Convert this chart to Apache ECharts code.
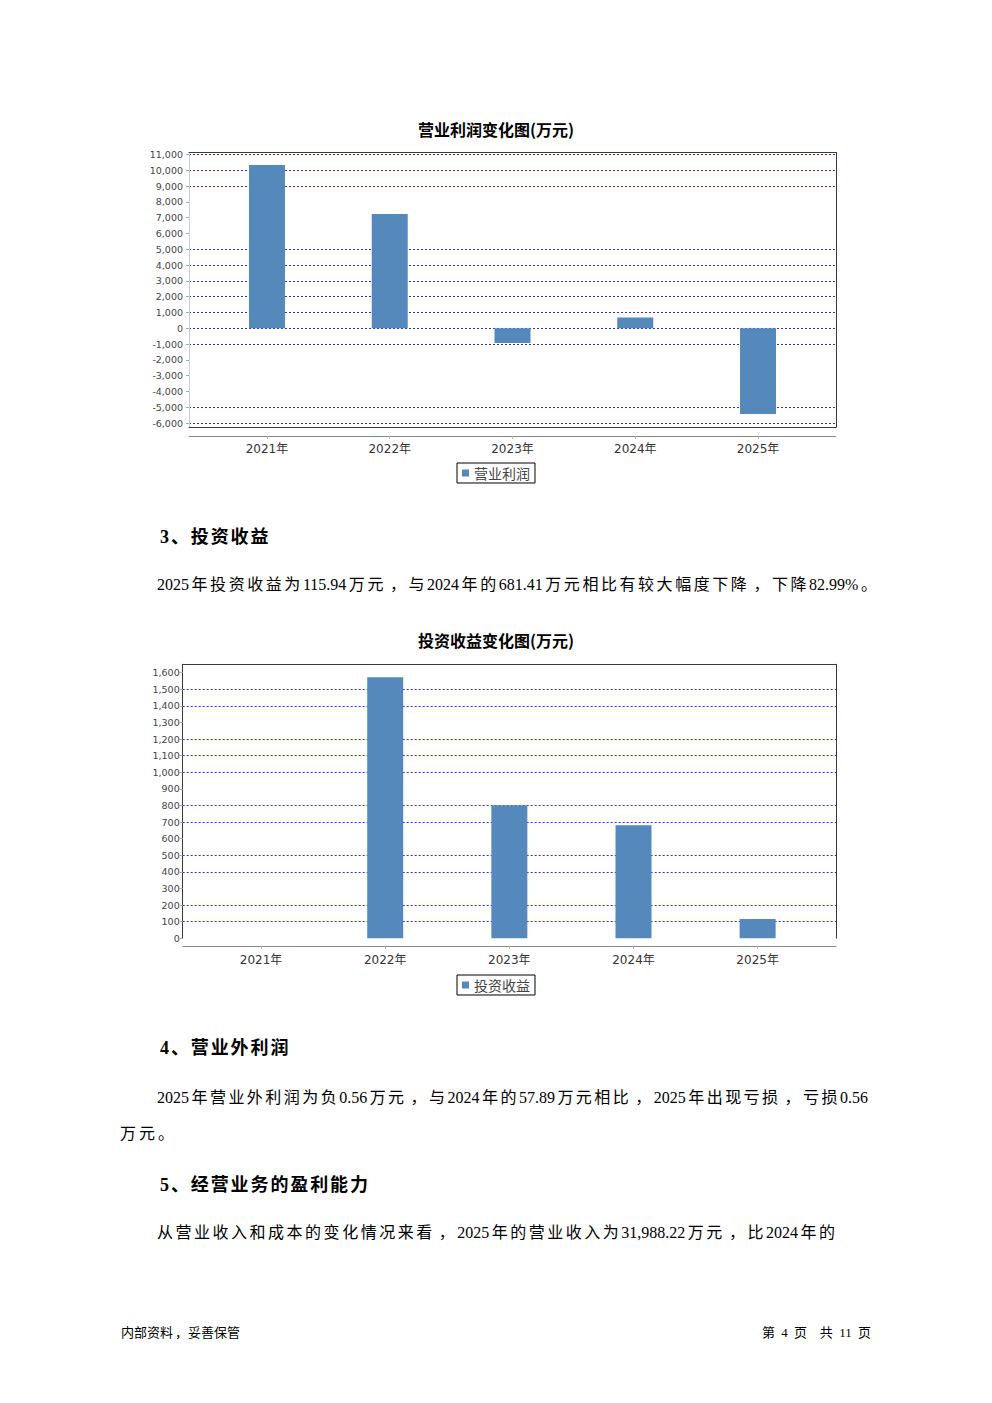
<!DOCTYPE html>
<html>
<head>
<meta charset="utf-8">
<script src="https://cdn.jsdelivr.net/npm/echarts@6/dist/echarts.min.js"></script>
<style>
  html, body { margin:0; padding:0; background:#fff; }
  #page { position:relative; width:992px; height:1403px; overflow:hidden; background:#fff; }
  #chart { position:absolute; left:0; top:0; width:992px; height:1403px; }
  .t { position:absolute; white-space:nowrap; font-family:'Liberation Serif','Noto Sans CJK SC',serif; font-size:16px; line-height:20px; color:#000; }
  .j { text-align:justify; text-align-last:justify; }
  .h { font-weight:bold; font-size:18px; line-height:22px; letter-spacing:1.9px; }
  .f { font-family:'Liberation Serif','Noto Sans CJK SC',serif; font-size:13px; line-height:16px; }
  .c { padding-left:4px; }
  .fc { padding-left:2px; }
</style>
</head>
<body>
<div id="page">
  <div id="chart"></div>
  <div class="t h" style="left:160px; top:526px;">3、投资收益</div>
  <div class="t j" style="left:157px; top:575px; width:720px;">2025年投资收益为115.94万元<span class="c">，</span>与2024年的681.41万元相比有较大幅度下降<span class="c">，</span>下降82.99%。</div>
  <div class="t h" style="left:160px; top:1037px;">4、营业外利润</div>
  <div class="t j" style="left:157px; top:1088px; width:711px;">2025年营业外利润为负0.56万元<span class="c">，</span>与2024年的57.89万元相比<span class="c">，</span>2025年出现亏损<span class="c">，</span>亏损0.56</div>
  <div class="t" style="left:120px; top:1124px; letter-spacing:3px;">万元。</div>
  <div class="t h" style="left:160px; top:1174px;">5、经营业务的盈利能力</div>
  <div class="t j" style="left:157px; top:1223px; width:678px;">从营业收入和成本的变化情况来看<span class="c">，</span>2025年的营业收入为31,988.22万元<span class="c">，</span>比2024年的</div>
  <div class="t f" style="left:121px; top:1325px;">内部资料<span class="fc">，</span>妥善保管</div>
  <div class="t f" style="right:121px; top:1325px; white-space:pre; word-spacing:3.1px;">第 4 页  共 11 页</div>
</div>
<script>
// ---------------- data ----------------
const years = ['2021年', '2022年', '2023年', '2024年', '2025年'];
const opProfitName = '营业利润';
const opProfit = [10340, 7230, -930, 680, -5430];
const opAxis = { min: -6000, max: 11000, step: 1000 };
const invIncomeName = '投资收益';
const invIncome = [0, 1573, 802, 681.41, 115.94];
const invAxis = { min: 0, max: 1600, step: 100 };
const opTitle = '营业利润变化图(万元)';
const invTitle = '投资收益变化图(万元)';

// ---------------- styles / layout ----------------
const BAR = '#5589bb';
const GRIDBLUE = '#2b2bff';
const H = 1403, W = 992;
// gridline visibility (from axis min upward), reproducing the reference rendering
const opGridShown  = [1,1,0,0,0,1,1,1,1,1,1,1,0,0,0,1,1,1];
const invGridShown = [0,1,1,0,1,1,0,1,1,0,1,1,1,0,1,1,0];

const grids = [], xAxes = [], yAxes = [], series = [], titles = [], legends = [];

function noAxisParts(o) {
  return Object.assign({
    axisTick: { show: false }, axisLabel: { show: false }, splitLine: { show: false }
  }, o);
}

function addChart(c) {
  // frame grid
  const f = grids.length;
  grids.push({ left: c.F.l, top: c.F.t, width: c.F.r - c.F.l, height: c.F.b - c.F.t, show: false });
  const line = (show, color) => ({ show: show, onZero: false, lineStyle: { color: color, width: 1 } });
  xAxes.push(noAxisParts({ gridIndex: f, type: 'value', min: 0, max: 1, position: 'top', axisLine: line(c.F.sides.top, '#3a3a3a') }));
  xAxes.push(noAxisParts({ gridIndex: f, type: 'value', min: 0, max: 1, position: 'bottom', axisLine: line(c.F.sides.bottom, '#3a3a3a') }));
  xAxes.push(noAxisParts({ gridIndex: f, type: 'value', min: 0, max: 1, position: 'bottom', offset: c.axisY - c.F.b, axisLine: line(true, '#8a8a8a') }));
  yAxes.push(noAxisParts({ gridIndex: f, type: 'value', min: 0, max: 1, position: 'left', axisLine: line(true, c.F.leftColor) }));
  yAxes.push(noAxisParts({ gridIndex: f, type: 'value', min: 0, max: 1, position: 'right', axisLine: line(true, '#3a3a3a') }));

  // gridline / y-label grid
  const g = grids.length;
  grids.push({ left: c.F.l, top: c.G.t, width: c.F.r - c.F.l, height: c.G.b - c.G.t, show: false });
  xAxes.push({ gridIndex: g, type: 'value', min: 0, max: 1, show: false });
  const colors = c.flags.map(v => v ? GRIDBLUE : 'rgba(0,0,0,0)');
  yAxes.push({
    gridIndex: g, type: 'value', min: c.ax.min, max: c.ax.max, interval: c.ax.step,
    axisLine: { show: false, onZero: false },
    axisTick: { show: true, length: 3, lineStyle: { color: '#aaa' } },
    axisLabel: {
      show: true, margin: c.yLabelMargin, fontSize: 9.5, color: '#444',
      fontFamily: "'DejaVu Sans', sans-serif",
      formatter: v => Number(v).toLocaleString('en-US')
    },
    splitLine: { show: true, lineStyle: { color: colors, type: [2, 2], width: 1 } }
  });

  // bar grid
  const b = grids.length;
  grids.push({ left: c.B.l, top: c.G.t, width: c.B.r - c.B.l, height: c.G.b - c.G.t, show: false });
  const xi = xAxes.length, yi = yAxes.length;
  xAxes.push({
    gridIndex: b, type: 'category', data: c.cats, position: 'bottom', offset: c.axisY - c.G.b,
    axisLine: { show: false, onZero: false },
    axisTick: { show: true, alignWithLabel: true, length: 3, lineStyle: { color: '#bbb' } },
    axisLabel: { margin: c.xLabelMargin, fontSize: 12, color: '#333', fontFamily: "'DejaVu Sans','Noto Sans CJK SC',sans-serif" },
    splitLine: { show: false }
  });
  yAxes.push({ gridIndex: b, type: 'value', min: c.ax.min, max: c.ax.max, interval: c.ax.step, show: false, splitLine: { show: false } });
  series.push({
    type: 'bar', name: c.name, data: c.values, xAxisIndex: xi, yAxisIndex: yi,
    barWidth: 36, itemStyle: { color: BAR }, animation: false
  });

  titles.push({
    text: c.title, left: 'center', top: c.titleTop, padding: 0,
    textStyle: { fontSize: 16, fontWeight: 'bold', color: '#000', fontFamily: "'Noto Sans CJK SC',sans-serif" }
  });
  legends.push({
    data: [c.name], left: c.legend.l, top: c.legend.t, orient: 'horizontal',
    icon: 'rect', itemWidth: 7, itemHeight: 7, itemGap: 0,
    padding: [3, 5, 3, 5], borderColor: '#000', borderWidth: 1, backgroundColor: '#fff',
    selectedMode: false,
    textStyle: { fontSize: 14, color: '#444', fontFamily: "'Noto Sans CJK SC',sans-serif" }
  });
}

addChart({
  name: opProfitName, cats: years, values: opProfit, ax: opAxis, flags: opGridShown, title: opTitle,
  titleTop: 121, legend: { l: 457, t: 463 },
  F: { l: 189, r: 836, t: 152.5, b: 427, sides: { top: true, bottom: true }, leftColor: '#cfcfcf' },
  G: { t: 154.5, b: 423.1 },
  B: { l: 205.6, r: 819.4 },
  axisY: 436, yLabelMargin: 6, xLabelMargin: 7
});
addChart({
  name: invIncomeName, cats: years, values: invIncome, ax: invAxis, flags: invGridShown, title: invTitle,
  titleTop: 632, legend: { l: 457, t: 975 },
  F: { l: 182.7, r: 836, t: 664.3, b: 938.3, sides: { top: true, bottom: false }, leftColor: '#3a3a3a' },
  G: { t: 672.7, b: 938.3 },
  B: { l: 199, r: 819.7 },
  axisY: 946, yLabelMargin: 3, xLabelMargin: 8
});

grids.forEach(gr => { gr.outerBoundsMode = 'none'; gr.containLabel = false; });

const chart = echarts.init(document.getElementById('chart'), null, { renderer: 'svg', width: W, height: H });
chart.setOption({
  backgroundColor: '#fff',
  animation: false,
  title: titles,
  legend: legends,
  grid: grids,
  xAxis: xAxes,
  yAxis: yAxes,
  series: series
});
</script>
</body>
</html>
